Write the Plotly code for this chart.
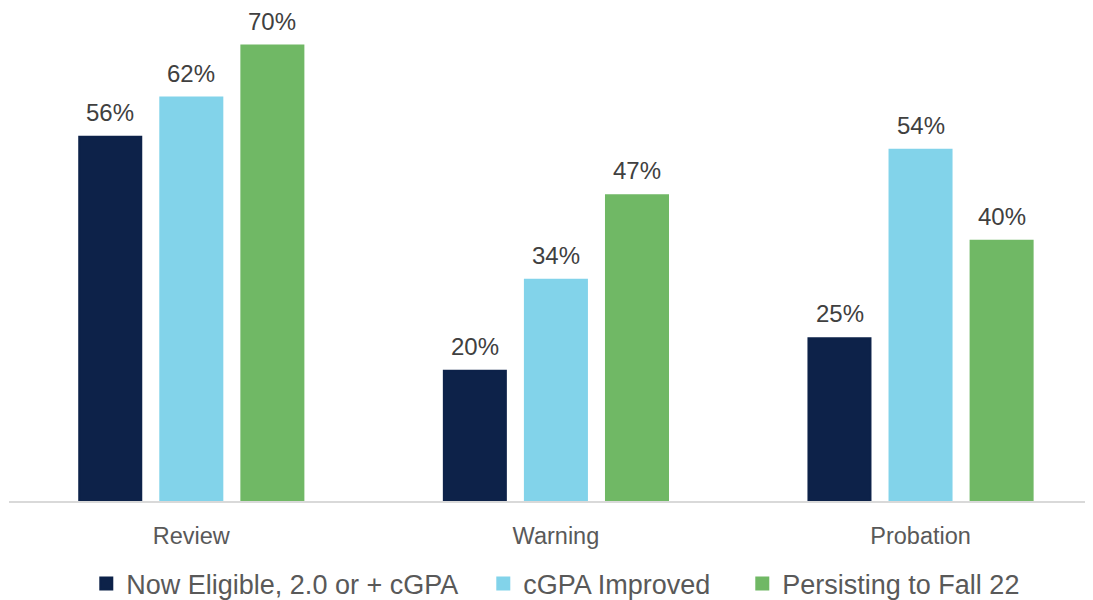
import plotly.graph_objects as go

categories = ["Review", "Warning", "Probation"]
series_names = ["Now Eligible, 2.0 or + cGPA", "cGPA Improved", "Persisting to Fall 22"]
now_eligible = [56, 20, 25]
cgpa_improved = [62, 34, 54]
persisting = [70, 47, 40]

colors = ["#0D2249", "#82D3EA", "#70B865"]
legend_widths = [352, 214, 245]
values = [now_eligible, cgpa_improved, persisting]

FONT = "Liberation Sans, Arial, sans-serif"
SLOT = 81  # pixel distance between bars within a group

fig = go.Figure()
annotations = []
for i, (name, vals, col, lw) in enumerate(zip(series_names, values, colors, legend_widths)):
    fig.add_trace(go.Bar(
        x=categories, y=vals, name=name,
        marker=dict(color=col, line=dict(width=2, color=col)),
        legendwidth=lw,
    ))
    for cat, v in zip(categories, vals):
        annotations.append(dict(
            x=cat, y=v, xref="x", yref="y",
            text=f"{v}%", showarrow=False,
            xanchor="center", yanchor="bottom",
            xshift=(i - 1) * SLOT, yshift=9,
            font=dict(family=FONT, size=24, color="#404040"),
        ))

fig.update_layout(
    width=1085, height=592,
    margin=dict(l=1, r=0, t=5, b=99, autoexpand=False),
    paper_bgcolor="white", plot_bgcolor="white",
    barmode="group", bargap=0.333, bargroupgap=0.235,
    font=dict(family=FONT, color="#595959"),
    xaxis=dict(
        range=[-0.5, 2.473],
        showline=True, linecolor="#D9D9D9", linewidth=2,
        ticks="outside", ticklen=13, tickcolor="rgba(0,0,0,0)",
        tickfont=dict(size=23.5, color="#595959"),
        showgrid=False,
    ),
    yaxis=dict(range=[0, 75], visible=False, showgrid=False, zeroline=False),
    legend=dict(
        orientation="h", x=0.0713, xanchor="left",
        yref="container", y=0.027, yanchor="middle",
        font=dict(size=27, color="#595959"),
        itemwidth=30, traceorder="normal",
    ),
    annotations=annotations,
    showlegend=True,
)

fig.write_html("out.html")
